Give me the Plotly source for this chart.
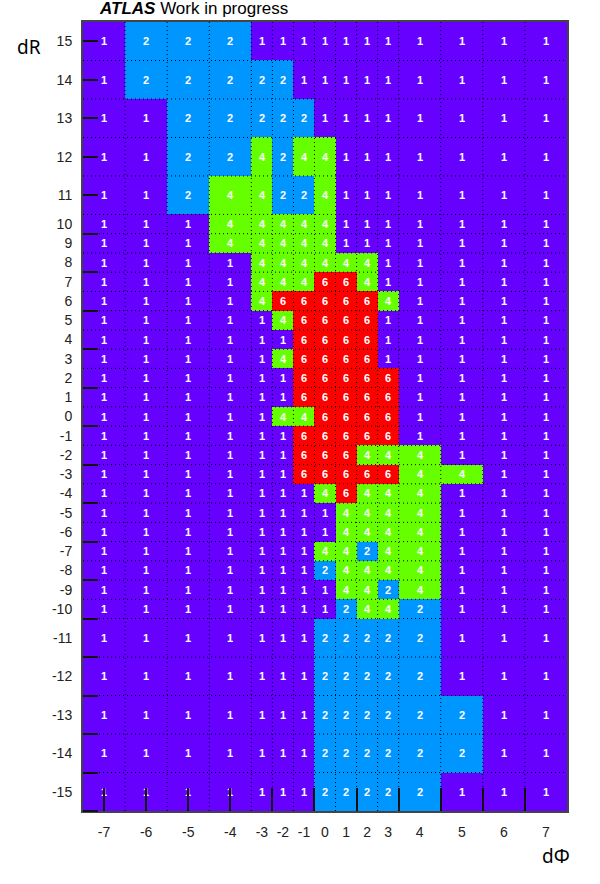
import plotly.graph_objects as go

# ---------------- data ----------------
x_labels = [-7, -6, -5, -4, -3, -2, -1, 0, 1, 2, 3, 4, 5, 6, 7]
x_edges = [0, 2, 4, 6, 8, 9, 10, 11, 12, 13, 14, 15, 17, 19, 21, 23]

# rows from top (dR = 15) to bottom (dR = -15)
y_labels_top_down = list(range(15, -16, -1))
y_edges = [0, 2, 4, 6, 8, 10] + list(range(11, 32)) + [33, 35, 37, 39, 41]

z_top_down = [
    [1, 2, 2, 2, 1, 1, 1, 1, 1, 1, 1, 1, 1, 1, 1],  # 15
    [1, 2, 2, 2, 2, 2, 1, 1, 1, 1, 1, 1, 1, 1, 1],  # 14
    [1, 1, 2, 2, 2, 2, 2, 1, 1, 1, 1, 1, 1, 1, 1],  # 13
    [1, 1, 2, 2, 4, 2, 4, 4, 1, 1, 1, 1, 1, 1, 1],  # 12
    [1, 1, 2, 4, 4, 2, 2, 4, 1, 1, 1, 1, 1, 1, 1],  # 11
    [1, 1, 1, 4, 4, 4, 4, 4, 1, 1, 1, 1, 1, 1, 1],  # 10
    [1, 1, 1, 4, 4, 4, 4, 4, 1, 1, 1, 1, 1, 1, 1],  # 9
    [1, 1, 1, 1, 4, 4, 4, 4, 4, 4, 1, 1, 1, 1, 1],  # 8
    [1, 1, 1, 1, 4, 4, 4, 6, 6, 4, 1, 1, 1, 1, 1],  # 7
    [1, 1, 1, 1, 4, 6, 6, 6, 6, 6, 4, 1, 1, 1, 1],  # 6
    [1, 1, 1, 1, 1, 4, 6, 6, 6, 6, 1, 1, 1, 1, 1],  # 5
    [1, 1, 1, 1, 1, 1, 6, 6, 6, 6, 1, 1, 1, 1, 1],  # 4
    [1, 1, 1, 1, 1, 4, 6, 6, 6, 6, 1, 1, 1, 1, 1],  # 3
    [1, 1, 1, 1, 1, 1, 6, 6, 6, 6, 6, 1, 1, 1, 1],  # 2
    [1, 1, 1, 1, 1, 1, 6, 6, 6, 6, 6, 1, 1, 1, 1],  # 1
    [1, 1, 1, 1, 1, 4, 4, 6, 6, 6, 6, 1, 1, 1, 1],  # 0
    [1, 1, 1, 1, 1, 1, 6, 6, 6, 6, 6, 1, 1, 1, 1],  # -1
    [1, 1, 1, 1, 1, 1, 6, 6, 6, 4, 4, 4, 1, 1, 1],  # -2
    [1, 1, 1, 1, 1, 1, 6, 6, 6, 6, 6, 4, 4, 1, 1],  # -3
    [1, 1, 1, 1, 1, 1, 1, 4, 6, 4, 4, 4, 1, 1, 1],  # -4
    [1, 1, 1, 1, 1, 1, 1, 1, 4, 4, 4, 4, 1, 1, 1],  # -5
    [1, 1, 1, 1, 1, 1, 1, 1, 4, 4, 4, 4, 1, 1, 1],  # -6
    [1, 1, 1, 1, 1, 1, 1, 4, 4, 2, 4, 4, 1, 1, 1],  # -7
    [1, 1, 1, 1, 1, 1, 1, 2, 4, 4, 4, 4, 1, 1, 1],  # -8
    [1, 1, 1, 1, 1, 1, 1, 1, 4, 4, 2, 4, 1, 1, 1],  # -9
    [1, 1, 1, 1, 1, 1, 1, 1, 2, 4, 4, 2, 1, 1, 1],  # -10
    [1, 1, 1, 1, 1, 1, 1, 2, 2, 2, 2, 2, 1, 1, 1],  # -11
    [1, 1, 1, 1, 1, 1, 1, 2, 2, 2, 2, 2, 1, 1, 1],  # -12
    [1, 1, 1, 1, 1, 1, 1, 2, 2, 2, 2, 2, 2, 1, 1],  # -13
    [1, 1, 1, 1, 1, 1, 1, 2, 2, 2, 2, 2, 2, 1, 1],  # -14
    [1, 1, 1, 1, 1, 1, 1, 2, 2, 2, 2, 2, 1, 1, 1],  # -15
]

# ---------------- derived ----------------
y_labels = y_labels_top_down[::-1]
z = z_top_down[::-1]
x_centers = [(a + b) / 2 for a, b in zip(x_edges[:-1], x_edges[1:])]
y_centers = [(a + b) / 2 for a, b in zip(y_edges[:-1], y_edges[1:])]

PURPLE = "#6600ff"
BLUE = "#0096ff"
GREEN = "#66ff00"
RED = "#ff0000"
colorscale = [
    [0.0, PURPLE], [0.1, PURPLE],
    [0.1, BLUE], [0.4, BLUE],
    [0.4, GREEN], [0.8, GREEN],
    [0.8, RED], [1.0, RED],
]

fig = go.Figure()
fig.add_trace(go.Heatmap(
    x=x_edges, y=y_edges, z=z,
    zmin=1, zmax=6, colorscale=colorscale, showscale=False,
    texttemplate="%{z}",
    textfont=dict(color="white", size=11, family="Liberation Sans", weight="bold"),
    hoverinfo="skip",
))

# dotted cell boundaries (drawn on an overlay subplot so they sit above the cells)
gx, gy = [], []
for xe in x_edges[1:-1]:
    gx += [xe, xe, None]
    gy += [y_edges[0], y_edges[-1], None]
for ye in y_edges[1:-1]:
    gx += [x_edges[0], x_edges[-1], None]
    gy += [ye, ye, None]
fig.add_trace(go.Scatter(
    x=gx, y=gy, mode="lines", xaxis="x2", yaxis="y2",
    line=dict(color="black", width=1, dash="1px,3px"),
    hoverinfo="skip", showlegend=False,
))

xr = [x_edges[0], x_edges[-1]]
yr = [y_edges[0], y_edges[-1]]
tick_font = dict(size=14, color="#222222", family="Liberation Sans")

fig.update_layout(
    width=600, height=884,
    margin=dict(l=83, r=33, t=22, b=73),
    paper_bgcolor="white", plot_bgcolor="white",
    showlegend=False,
    xaxis=dict(
        range=xr, tickmode="array", tickvals=x_centers, ticktext=[str(v) for v in x_labels],
        ticks="", showgrid=False, zeroline=False, tickfont=tick_font,
        showline=True, mirror=True, linecolor="#444444", linewidth=2,
        ticklabelstandoff=7,
        minor=dict(tickmode="array", tickvals=list(range(1, 23, 2)), ticks="inside",
                   ticklen=23, tickwidth=2, tickcolor="#111111", showgrid=False),
    ),
    yaxis=dict(
        range=yr, tickmode="array", tickvals=y_centers, ticktext=[str(v) for v in y_labels],
        ticks="", showgrid=False, zeroline=False, tickfont=tick_font,
        showline=True, mirror=True, linecolor="#444444", linewidth=2,
        ticklabelstandoff=6,
        minor=dict(tickmode="array", tickvals=list(range(0, 42, 2)), ticks="inside",
                   ticklen=15, tickwidth=2, tickcolor="#111111", showgrid=False),
    ),
    xaxis2=dict(
        range=xr, overlaying="x", anchor="y2", visible=False,
    ),
    yaxis2=dict(
        range=yr, overlaying="y", anchor="x2", visible=False,
    ),
    annotations=[
        dict(text="<b><i>ATLAS</i></b> Work in progress", xref="paper", yref="paper",
             x=0.028, y=1.0165, xanchor="left", yanchor="middle", showarrow=False,
             font=dict(size=17, color="black", family="Liberation Sans")),
        dict(text="dR", xref="paper", yref="paper", x=-0.1116, y=0.968,
             xanchor="center", yanchor="middle", showarrow=False,
             font=dict(size=19, color="black", family="Noto Sans")),
        dict(text="dΦ", xref="paper", yref="paper", x=0.977, y=-0.057,
             xanchor="center", yanchor="middle", showarrow=False,
             font=dict(size=19, color="black", family="Noto Sans")),
    ],
)

fig.write_html("out.html")
